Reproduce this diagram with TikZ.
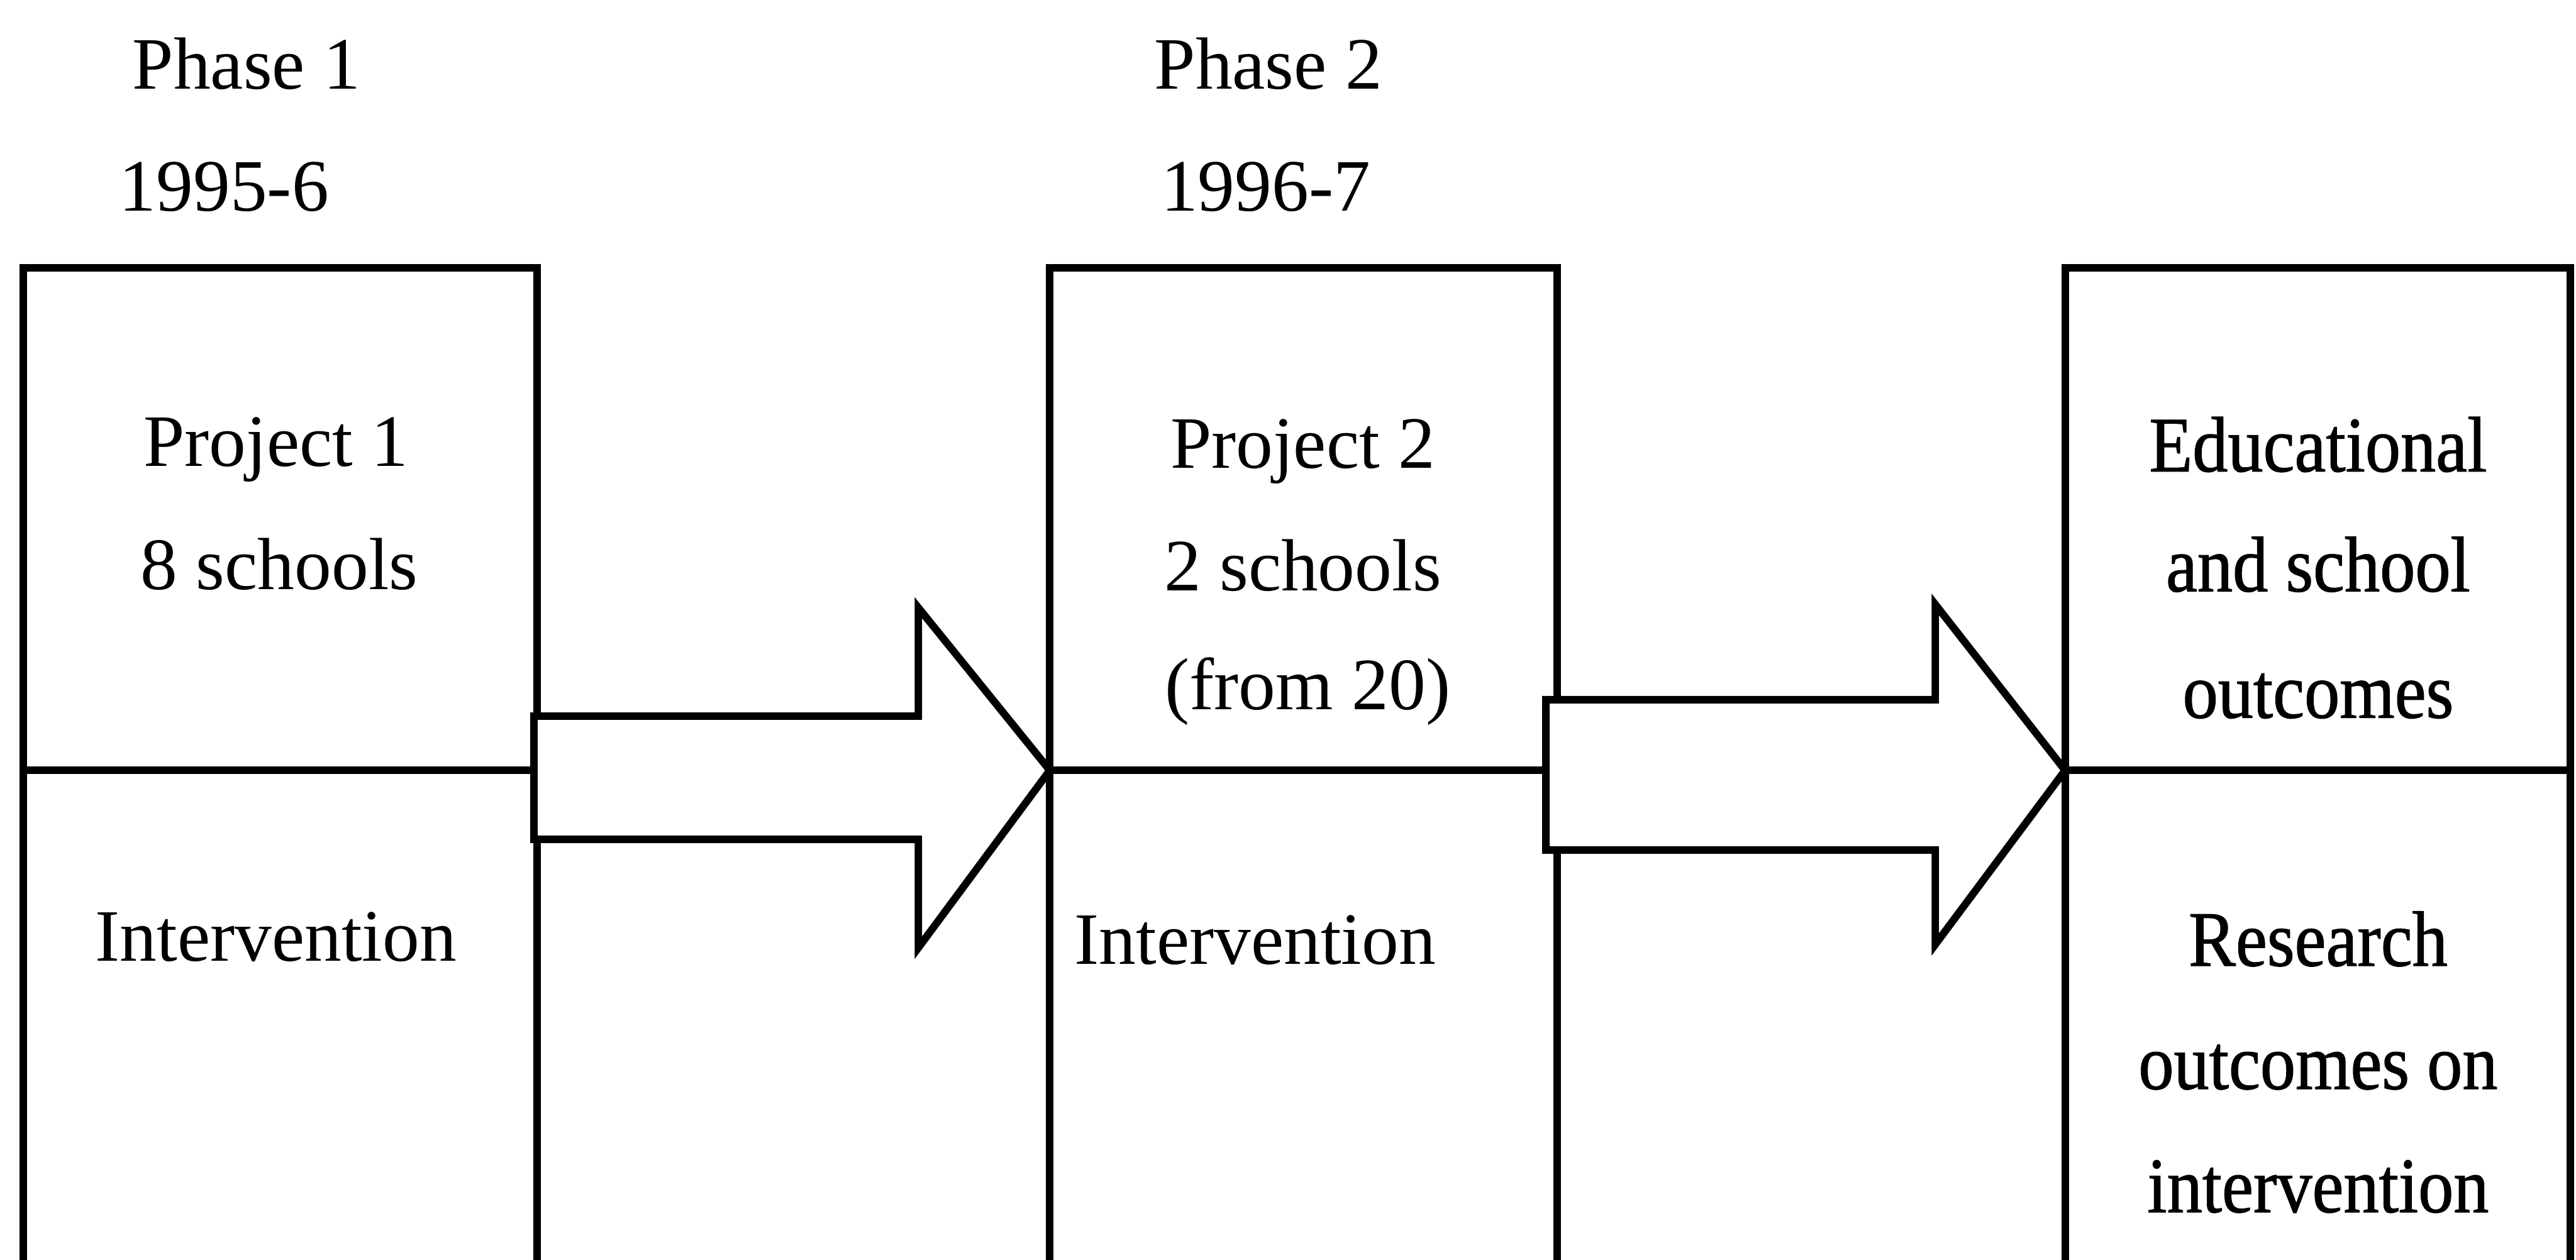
\documentclass[tikz,border=0pt]{standalone}
\usepackage{fontspec}
\setmainfont{Liberation Serif}
\newfontfamily\outfont[FakeStretch=0.9,FakeBold=1]{Liberation Serif}
\begin{document}
\begin{tikzpicture}[
  line join=miter,
  frame/.style={draw=black, line width=1.3pt},
  cell/.style={frame, rectangle, inner sep=0pt, outer sep=0pt, anchor=north west},
  lbl/.style={inner sep=0pt, anchor=base, font=\fontsize{12.8pt}{15pt}\selectfont},
  hdr/.style={inner sep=0pt, anchor=base west, font=\fontsize{12.8pt}{15pt}\selectfont},
  outlbl/.style={inner sep=0pt, anchor=base, font=\outfont\fontsize{13.6pt}{16pt}\selectfont},
  blockarrow/.style={frame, fill=white}
]
\useasboundingbox (0,0) rectangle (15.68,-7.67);

% phase headings
\node[hdr] (ph1) at (0.80,-0.54) {Phase 1};
\node[hdr] (yr1) at (0.72,-1.285) {1995-6};
\node[hdr] (ph2) at (7.02,-0.54) {Phase 2};
\node[hdr] (yr2) at (7.06,-1.285) {1996-7};

% column 1
\node[cell, minimum width=3.13cm, minimum height=3.06cm] (c1a) at (0.14,-1.63) {};
\node[cell, minimum width=3.13cm, minimum height=3.20cm] (c1b) at (c1a.south west) {};
% column 2
\node[cell, minimum width=3.09cm, minimum height=3.06cm] (c2a) at (6.39,-1.63) {};
\node[cell, minimum width=3.09cm, minimum height=3.20cm] (c2b) at (c2a.south west) {};
% column 3
\node[cell, minimum width=3.075cm, minimum height=3.06cm] (c3a) at (12.57,-1.63) {};
\node[cell, minimum width=3.075cm, minimum height=3.20cm] (c3b) at (c3a.south west) {};

% block arrows between the columns
\coordinate (a1s) at ([xshift=-0.02cm]c1a.south east);
\coordinate (a1t) at (c2a.south west);
\draw[blockarrow] ([yshift=0.33cm]a1s) -- ([yshift=0.33cm]5.59,0 |- a1s)
  -- ([yshift=0.99cm]5.59,0 |- a1t) -- (a1t) -- ([yshift=-1.08cm]5.59,0 |- a1t)
  -- ([yshift=-0.42cm]5.59,0 |- a1s) -- ([yshift=-0.42cm]a1s) -- cycle;

\coordinate (a2s) at ([xshift=-0.07cm]c2a.south east);
\coordinate (a2t) at (c3a.south west);
\draw[blockarrow] ([yshift=0.43cm]a2s) -- ([yshift=0.43cm]11.78,0 |- a2s)
  -- ([yshift=1.01cm]11.78,0 |- a2t) -- (a2t) -- ([yshift=-1.06cm]11.78,0 |- a2t)
  -- ([yshift=-0.485cm]11.78,0 |- a2s) -- ([yshift=-0.485cm]a2s) -- cycle;

% column 1 text
\node[lbl] (p1) at (1.68,-2.84) {Project 1};
\node[lbl] (s1) at (1.70,-3.59) {8 schools};
\node[lbl] (i1) at (1.68,-5.85) {Intervention};
% column 2 text
\node[lbl] (p2) at (7.93,-2.85) {Project 2};
\node[lbl] (s2) at (7.93,-3.595) {2 schools};
\node[lbl] (f2) at (7.96,-4.32) {(from 20)};
\node[lbl] (i2) at (7.64,-5.87) {Intervention};
% column 3 text
\node[outlbl] (o1) at (14.11,-2.87) {Educational};
\node[outlbl] (o2) at (14.11,-3.60) {and school};
\node[outlbl] (o3) at (14.11,-4.37) {outcomes};
\node[outlbl] (r1) at (14.11,-5.88) {Research};
\node[outlbl] (r2) at (14.11,-6.63) {outcomes on};
\node[outlbl] (r3) at (14.11,-7.38) {intervention};
\end{tikzpicture}
\end{document}
